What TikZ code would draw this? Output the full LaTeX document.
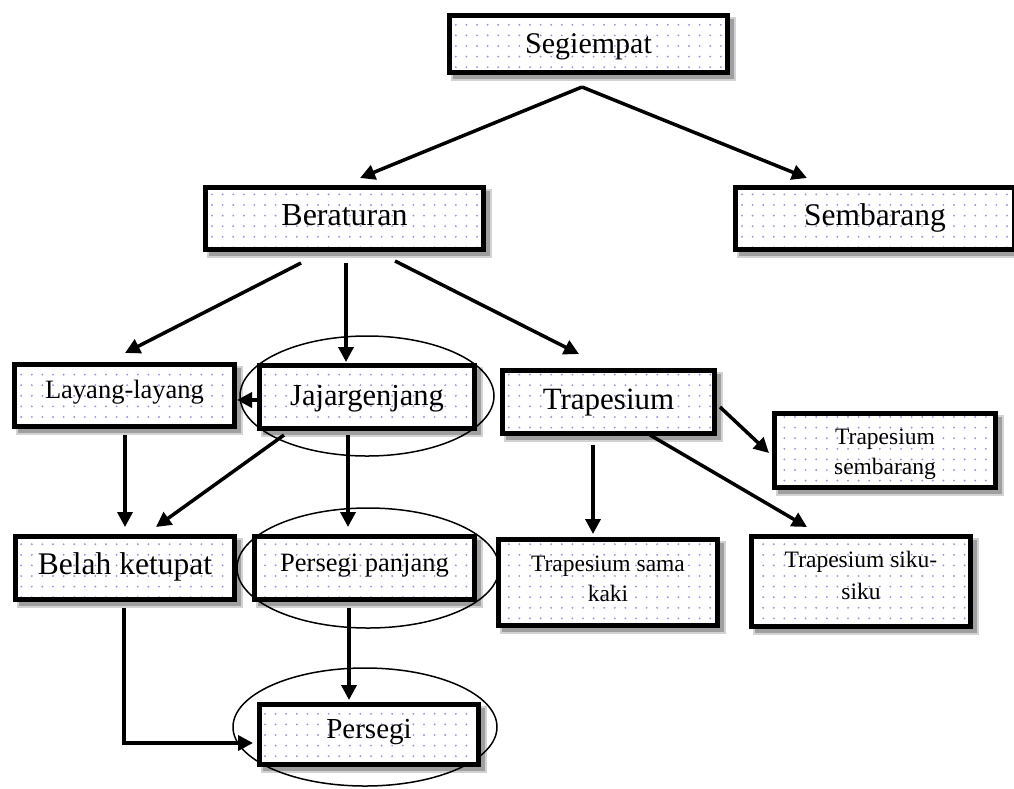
\documentclass[tikz,border=0pt]{standalone}
\usepackage{fontspec}
\setmainfont{Liberation Serif}
\usetikzlibrary{arrows.meta,patterns.meta}
\definecolor{dotc}{RGB}{165,145,220}
\pgfdeclarelayer{shad}
\pgfdeclarelayer{ell}
\pgfsetlayers{shad,ell,main}
\tikzset{
  bx/.style={draw=black, line width=5pt, preaction={fill=white},
    pattern={Dots[radius=1.05pt,distance=10.6pt]}, pattern color=dotc,
    inner sep=0pt},
  bxtwo/.style={bx, align=center, font=\fontsize{23.5}{30}\selectfont},
  arr/.style={line width=3.5pt, -{Triangle[length=15pt,width=15pt]}},
  ellring/.style={line width=1.5pt},
  shadowsty/.style={fill=gray!75, draw=gray!35, line width=1.5pt}
}
\begin{document}
\begin{tikzpicture}[x=1pt,y=1pt]
\useasboundingbox (0,0) rectangle (1014,-788);

\node[bx, minimum width=278pt, minimum height=57pt, font=\fontsize{30}{36}\selectfont, text height=27pt, text depth=9pt] (seg) at (588.5,-44) {Segiempat};
\node[bx, minimum width=278pt, minimum height=62pt, font=\fontsize{32}{38}\selectfont, text height=22pt, text depth=9pt] (ber) at (344.5,-218.5) {Beraturan};
\node[bx, minimum width=279pt, minimum height=62pt, font=\fontsize{31.5}{38}\selectfont, text height=22pt, text depth=9pt] (sem) at (875,-218.5) {Sembarang};
\node[bx, minimum width=220pt, minimum height=62pt, font=\fontsize{26.5}{32}\selectfont, text height=13pt, text depth=8pt] (lay) at (124.5,-395.5) {Layang-layang};
\node[bx, minimum width=215pt, minimum height=63pt, font=\fontsize{30.5}{37}\selectfont, text height=25pt, text depth=9pt] (jaj) at (367,-397) {Jajargenjang};
\node[bx, minimum width=212pt, minimum height=63pt, font=\fontsize{31}{37}\selectfont, text height=23pt, text depth=9pt] (trap) at (608.5,-402) {Trapesium};
\node[bxtwo, minimum width=221pt, minimum height=74pt] (ts) at (885,-450.5) {\rule{0pt}{24pt}Trapesium\\sembarang};
\node[bx, minimum width=219pt, minimum height=63pt, font=\fontsize{31.5}{38}\selectfont, text height=21pt, text depth=9pt] (bel) at (125,-568) {Belah ketupat};
\node[bx, minimum width=220pt, minimum height=63pt, font=\fontsize{26.5}{32}\selectfont, text height=15.5pt, text depth=8pt] (pp) at (364.5,-568) {Persegi panjang};
\node[bxtwo, minimum width=219pt, minimum height=86pt] (tsk) at (608,-582.5) {Trapesium sama\\kaki\rule[-7pt]{0pt}{7pt}};
\node[bxtwo, minimum width=219pt, minimum height=90pt, font=\fontsize{23.5}{32}\selectfont] (tss) at (861,-581.5) {Trapesium siku-\\siku\rule[-13pt]{0pt}{13pt}};
\node[bx, minimum width=219pt, minimum height=60pt, font=\fontsize{29}{35}\selectfont, text height=15pt, text depth=8pt] (per) at (369,-734.5) {Persegi};

\begin{pgfonlayer}{shad}
\foreach \n in {seg,ber,sem,lay,jaj,trap,ts,bel,pp,tsk,tss,per}
  \draw[shadowsty] ([shift={(5pt,-5pt)}]\n.south west) rectangle ([shift={(5pt,-5pt)}]\n.north east);
\end{pgfonlayer}

\begin{pgfonlayer}{ell}
\draw[ellring] ([yshift=1pt]jaj.center) ellipse [x radius=127pt, y radius=60pt];
\draw[ellring] ([xshift=3.5pt]pp.center) ellipse [x radius=131pt, y radius=60pt];
\draw[ellring] ([xshift=-4pt,yshift=7.5pt]per.center) ellipse [x radius=132pt, y radius=59pt];
\end{pgfonlayer}

\draw[arr] ([xshift=-6.5pt,yshift=-12pt]seg.south) -- ([xshift=15.5pt,yshift=7pt]ber.north);
\draw[arr] ([xshift=-6.5pt,yshift=-12pt]seg.south) -- ([xshift=-68pt,yshift=7pt]sem.north);
\draw[arr] ([xshift=-43.5pt,yshift=-11pt]ber.south) -- ([xshift=0.5pt,yshift=9pt]lay.north);
\draw[arr] ([xshift=1.5pt,yshift=-11pt]ber.south) -- ([xshift=-21pt,yshift=1pt]jaj.north);
\draw[arr] ([xshift=50.5pt,yshift=-9pt]ber.south) -- ([xshift=-29.5pt,yshift=14pt]trap.north);
\draw[arr] ([yshift=-3pt]jaj.west) -- ([yshift=-3pt]jaj.west -| lay.east);
\draw[arr] ([xshift=0.5pt,yshift=-6pt]lay.south) -- ([yshift=7pt]bel.north);
\draw[arr] ([xshift=-83pt,yshift=-4pt]jaj.south) -- ([xshift=31pt,yshift=7pt]bel.north);
\draw[arr] ([xshift=-19pt,yshift=-4pt]jaj.south) -- ([xshift=-16.5pt,yshift=7pt]pp.north);
\draw[arr] ([xshift=-15.5pt,yshift=-9pt]trap.south) -- ([xshift=-15pt,yshift=3pt]tsk.north);
\draw[arr] ([xshift=3pt,yshift=-5pt]trap.east) -- ([xshift=-3pt,yshift=-2.5pt]ts.west);
\draw[arr] ([xshift=41.5pt,yshift=1pt]trap.south) -- ([xshift=-54pt,yshift=7pt]tss.north);
\draw[arr] ([xshift=-1pt,yshift=-6pt]bel.south) |- ([xshift=-4pt,yshift=-8.5pt]per.west);
\draw[arr] ([xshift=-15.5pt,yshift=-6pt]pp.south) -- ([xshift=-20pt,yshift=2pt]per.north);
\end{tikzpicture}
\end{document}
